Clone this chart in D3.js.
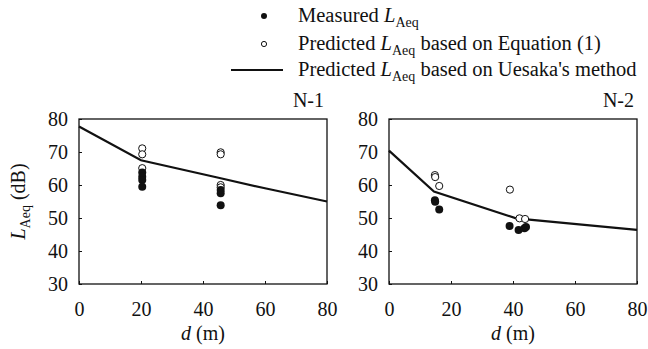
<!DOCTYPE html>
<html><head><meta charset="utf-8">
<script src="https://cdn.jsdelivr.net/npm/d3@7"></script>
<style>body{margin:0;background:#fff}svg{display:block}</style>
</head><body><svg id="c" width="648" height="349"></svg>
<script>
const FONT = "'Liberation Serif', 'DejaVu Serif', 'Times New Roman', Times, serif";
const xTicks = [0, 20, 40, 60, 80];
const yTicks = [30, 40, 50, 60, 70, 80];
const panelNames = ["N-1", "N-2"];
// Panel N-1
const n1Measured = [[20.4, 63.8], [20.4, 62.5], [20.4, 61.5], [20.4, 59.5], [45.7, 58.5], [45.7, 57.5], [45.7, 53.9]];
const n1Predicted = [[20.4, 71.1], [20.4, 69.3], [20.4, 65.1], [45.7, 69.9], [45.7, 69.3], [45.7, 60.0], [45.7, 59.3]];
const n1Uesaka = [[0, 77.7], [20, 67.5], [45, 62.2], [60, 59.0], [80, 55.0]];
// Panel N-2
const n2Measured = [[14.8, 55.4], [14.9, 54.9], [16.2, 52.6], [38.9, 47.6], [41.8, 46.4], [43.7, 46.9], [44.2, 47.3]];
const n2Predicted = [[14.8, 63.0], [14.9, 62.4], [16.2, 59.7], [39.0, 58.6], [42.1, 49.9], [43.9, 49.7]];
const n2Uesaka = [[0, 70.4], [14.5, 58.0], [41, 49.9], [80, 46.4]];

const legendLabels = ["Measured ", "Predicted ", "Predicted "];
const legendTails = ["", " based on Equation (1)", " based on Uesaka's method"];

const svg = d3.select("#c").attr("font-family", FONT);
const panels = [
  {name: panelNames[0], x0: 79, x1: 327, meas: n1Measured, pred: n1Predicted, line: n1Uesaka, ylab: true},
  {name: panelNames[1], x0: 389, x1: 637, meas: n2Measured, pred: n2Predicted, line: n2Uesaka, ylab: false}
];
const yTop = 119, yBot = 284;

panels.forEach(p => {
  const x = d3.scaleLinear().domain([0, 80]).range([p.x0, p.x1]);
  const y = d3.scaleLinear().domain([30, 80]).range([yBot, yTop]);
  const g = svg.append("g");
  g.append("rect").attr("x", p.x0).attr("y", yTop).attr("width", p.x1 - p.x0).attr("height", yBot - yTop)
    .attr("fill", "none").attr("stroke", "#111").attr("stroke-width", 1.3);
  const xa = g.append("g").attr("transform", `translate(0,${yBot})`)
    .call(d3.axisBottom(x).tickValues(xTicks).tickSize(-3).tickPadding(18).tickFormat(d3.format("d")));
  const ya = g.append("g").attr("transform", `translate(${p.x0},0)`)
    .call(d3.axisLeft(y).tickValues(yTicks).tickSize(-3).tickPadding(11).tickFormat(d3.format("d")));
  [xa, ya].forEach(a => {
    a.attr("font-family", FONT).attr("font-size", 20);
    a.select(".domain").remove();
    a.selectAll(".tick line").attr("stroke", "#111").attr("stroke-width", 1);
    a.selectAll("text").attr("fill", "#111");
  });
  g.append("path").datum(p.line)
    .attr("d", d3.line().x(d => x(d[0])).y(d => y(d[1])))
    .attr("fill", "none").attr("stroke", "#111").attr("stroke-width", 2.2);
  g.selectAll(".pred").data(p.pred).enter().append("circle")
    .attr("cx", d => x(d[0])).attr("cy", d => y(d[1])).attr("r", 3.6)
    .attr("fill", "#fff").attr("stroke", "#111").attr("stroke-width", 1);
  g.selectAll(".meas").data(p.meas).enter().append("circle")
    .attr("cx", d => x(d[0])).attr("cy", d => y(d[1])).attr("r", 4)
    .attr("fill", "#111");
  g.append("text").attr("x", p.x1 - 3).attr("y", yTop - 12).attr("text-anchor", "end")
    .attr("font-size", 20).attr("fill", "#111").text(p.name);
  const xl = g.append("text").attr("x", (p.x0 + p.x1) / 2).attr("y", 340).attr("text-anchor", "middle").attr("font-size", 20).attr("fill", "#111");
  xl.append("tspan").attr("font-style", "italic").text("d");
  xl.append("tspan").text(" (m)");
  if (p.ylab) {
    const yl = svg.append("text").attr("transform", `translate(25,${(yTop + yBot) / 2}) rotate(-90)`)
      .attr("text-anchor", "middle").attr("font-size", 20).attr("fill", "#111");
    yl.append("tspan").attr("font-style", "italic").text("L");
    yl.append("tspan").attr("font-size", 14).attr("dy", 5).text("Aeq");
    yl.append("tspan").attr("dy", -5).text(" (dB)");
  }
});

const legY = [22, 50, 76];
const lg = svg.append("g");
legendLabels.forEach((lab, i) => {
  const t = lg.append("text").attr("x", 298).attr("y", legY[i]).attr("font-size", 20.5).attr("fill", "#111");
  t.append("tspan").text(lab);
  t.append("tspan").attr("font-style", "italic").text("L");
  t.append("tspan").attr("font-size", 14).attr("dy", 5).text("Aeq");
  t.append("tspan").attr("dy", -5).text(legendTails[i]);
});
lg.append("circle").attr("cx", 264).attr("cy", legY[0] - 6).attr("r", 3).attr("fill", "#111");
lg.append("circle").attr("cx", 264).attr("cy", legY[1] - 6).attr("r", 2.6).attr("fill", "#fff").attr("stroke", "#111").attr("stroke-width", 1);
lg.append("line").attr("x1", 231).attr("x2", 283).attr("y1", legY[2] - 6).attr("y2", legY[2] - 6).attr("stroke", "#111").attr("stroke-width", 2);
</script></body></html>
